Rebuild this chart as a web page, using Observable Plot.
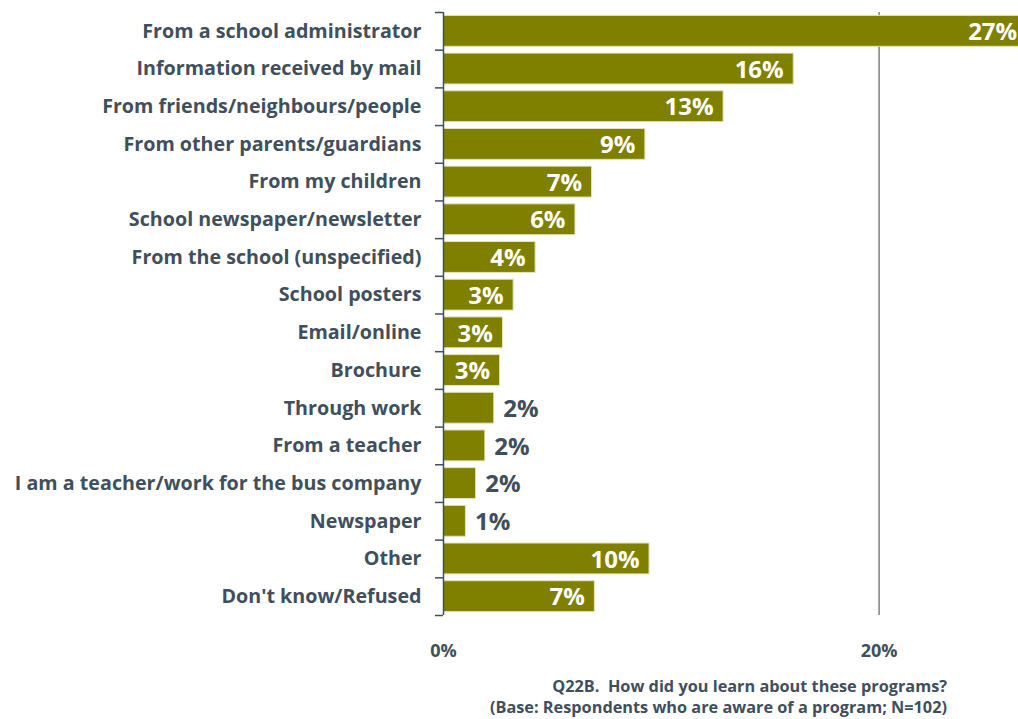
<!DOCTYPE html>
<html>
<head>
<meta charset="utf-8">
<script src="https://cdn.jsdelivr.net/npm/d3@7"></script>
<script src="https://cdn.jsdelivr.net/npm/@observablehq/plot@0.6"></script>
<style>
  html, body { margin: 0; padding: 0; background: #fff; overflow: hidden; }
  #chart svg { display: block; }
  #foot {
    width: 947px; text-align: right;
    font-family: "Open Sans", Lato, sans-serif; font-weight: bold;
    font-size: 16.3px; color: #404f5c;
    padding-top: 11px;
  }
  #foot div { line-height: 21px; height: 21px; }
</style>
</head>
<body>
<div id="chart"></div>
<div id="foot"><div>Q22B.&nbsp; How did you learn about these programs?</div><div>(Base: Respondents who are aware of a program; N=102)</div></div>
<script>
// Categories (top to bottom)
const categories = [
  "From a school administrator",
  "Information received by mail",
  "From friends/neighbours/people",
  "From other parents/guardians",
  "From my children",
  "School newspaper/newsletter",
  "From the school (unspecified)",
  "School posters",
  "Email/online",
  "Brochure",
  "Through work",
  "From a teacher",
  "I am a teacher/work for the bus company",
  "Newspaper",
  "Other",
  "Don't know/Refused"
];
// Bar lengths (percent)
const values = [26.8, 16.08, 12.86, 9.27, 6.82, 6.06, 4.23, 3.22, 2.73, 2.60, 2.33, 1.92, 1.50, 1.03, 9.46, 6.95];
// Printed data labels (percent)
const labels = [27, 16, 13, 9, 7, 6, 4, 3, 3, 3, 2, 2, 2, 1, 10, 7];
// X axis ticks
const xTicks = [0, 20];
const xMax = 26.4;

const data = categories.map((c, i) => ({category: c, value: values[i], label: labels[i]}));

const W = 1018, H = 665, mTop = 12, mBottom = 50, mLeft = 443;
const step = (H - mBottom - mTop) / categories.length;
const ink = "#404f5c";
const font = "'Open Sans', Lato, sans-serif";

const chart = Plot.plot({
  width: W,
  height: H,
  marginLeft: mLeft,
  marginRight: 0,
  marginTop: mTop,
  marginBottom: mBottom,
  style: {fontFamily: font, color: ink, background: "white", overflow: "visible"},
  x: {domain: [0, xMax], label: null},
  y: {domain: categories, paddingInner: 0.18, paddingOuter: 0.09, round: false, label: null},
  marks: [
    Plot.ruleX([20], {stroke: "#808080", strokeWidth: 1.5}),
    Plot.barX(data, {x: "value", y: "category", fill: "#808000", stroke: "#e4e4bc", strokeWidth: 1, clip: true}),
    Plot.ruleX([0], {stroke: ink, strokeWidth: 1.5}),
    Plot.axisY({tickSize: 0, tickPadding: 22, fontSize: 19.7, fontWeight: "bold", fill: ink, label: null}),
    Plot.axisY(categories, {tickSize: 8, tickFormat: () => "", dy: -step / 2, stroke: ink, strokeWidth: 1.5, label: null}),
    Plot.axisY([categories[categories.length - 1]], {tickSize: 8, tickFormat: () => "", dy: step / 2, stroke: ink, strokeWidth: 1.5, label: null}),
    Plot.axisX(xTicks, {tickSize: 0, tickPadding: 29, fontSize: 18, fontWeight: "bold", fill: ink, tickFormat: d => d + "%", label: null}),
    Plot.text(data.filter(d => d.label >= 3), {
      x: "value", y: "category", text: d => d.label + "%",
      textAnchor: "end", dx: -10, dy: 1, fill: "white", fontSize: 24, fontWeight: "bold"
    }),
    Plot.text(data.filter(d => d.label < 3), {
      x: "value", y: "category", text: d => d.label + "%",
      textAnchor: "start", dx: 9, dy: 1, fill: ink, fontSize: 24, fontWeight: "bold"
    })
  ]
});
document.getElementById("chart").appendChild(chart);
</script>
</body>
</html>
